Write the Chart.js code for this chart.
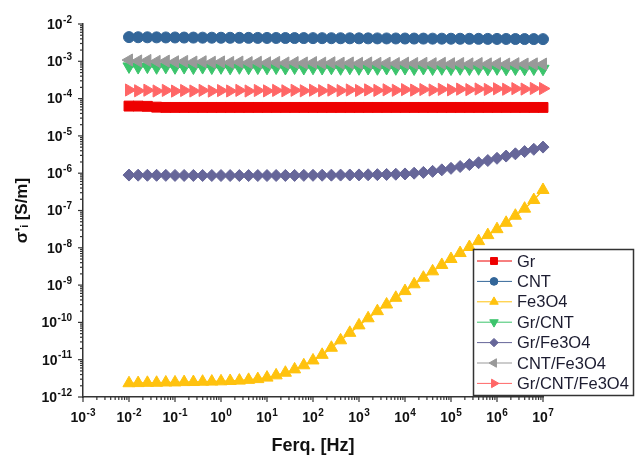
<!DOCTYPE html>
<html>
<head>
<meta charset="utf-8">
<script src="https://cdn.jsdelivr.net/npm/chart.js@4.4.1/dist/chart.umd.min.js"></script>
<style>
  html, body { margin: 0; padding: 0; background: #fff; }
  #wrap { width: 639px; height: 458px; position: relative; }
</style>
</head>
<body>
<div id="wrap"><canvas id="chart"></canvas></div>
<script>
// frequency points [Hz]
const freq = [
  0.01, 0.0158, 0.0251, 0.0398, 0.0631, 0.1, 0.158, 0.251, 0.398, 0.631,
  1, 1.58, 2.51, 3.98, 6.31, 10, 15.8, 25.1, 39.8, 63.1,
  100, 158, 251, 398, 631, 1e3, 1.58e3, 2.51e3, 3.98e3, 6.31e3,
  1e4, 1.58e4, 2.51e4, 3.98e4, 6.31e4, 1e5, 1.58e5, 2.51e5, 3.98e5, 6.31e5,
  1e6, 1.58e6, 2.51e6, 3.98e6, 6.31e6, 1e7
]

const gr = [
  6.3e-5, 6.3e-5, 6.2e-5, 5.9e-5, 5.8e-5, 5.8e-5, 5.8e-5, 5.8e-5, 5.8e-5, 5.8e-5,
  5.8e-5, 5.8e-5, 5.8e-5, 5.8e-5, 5.8e-5, 5.8e-5, 5.8e-5, 5.8e-5, 5.8e-5, 5.8e-5,
  5.8e-5, 5.8e-5, 5.8e-5, 5.8e-5, 5.8e-5, 5.8e-5, 5.8e-5, 5.8e-5, 5.8e-5, 5.8e-5,
  5.8e-5, 5.8e-5, 5.8e-5, 5.8e-5, 5.8e-5, 5.8e-5, 5.8e-5, 5.8e-5, 5.8e-5, 5.8e-5,
  5.8e-5, 5.8e-5, 5.8e-5, 5.8e-5, 5.8e-5, 5.8e-5
]

const cnt = [
  4.45e-3, 4.42e-3, 4.40e-3, 4.38e-3, 4.36e-3, 4.35e-3, 4.33e-3, 4.32e-3, 4.30e-3, 4.29e-3,
  4.28e-3, 4.27e-3, 4.26e-3, 4.25e-3, 4.24e-3, 4.23e-3, 4.22e-3, 4.21e-3, 4.20e-3, 4.19e-3,
  4.18e-3, 4.17e-3, 4.16e-3, 4.15e-3, 4.14e-3, 4.13e-3, 4.12e-3, 4.11e-3, 4.10e-3, 4.09e-3,
  4.08e-3, 4.07e-3, 4.06e-3, 4.05e-3, 4.04e-3, 4.03e-3, 4.02e-3, 4.01e-3, 4.00e-3, 3.99e-3,
  3.98e-3, 3.97e-3, 3.96e-3, 3.95e-3, 3.94e-3, 3.93e-3
]

const fe3o4 = [
  2.34e-12, 2.36e-12, 2.40e-12, 2.41e-12, 2.45e-12, 2.46e-12, 2.51e-12, 2.52e-12, 2.57e-12, 2.59e-12,
  2.63e-12, 2.69e-12, 2.75e-12, 2.88e-12, 3.02e-12, 3.31e-12, 3.80e-12, 4.47e-12, 5.50e-12, 7.08e-12,
  9.55e-12, 1.35e-11, 2.09e-11, 3.31e-11, 5.25e-11, 8.32e-11, 1.29e-10, 2.00e-10, 3.02e-10, 4.57e-10,
  6.92e-10, 1.05e-9, 1.58e-9, 2.34e-9, 3.47e-9, 5.01e-9, 7.24e-9, 1.05e-8, 1.51e-8, 2.19e-8,
  3.16e-8, 4.68e-8, 7.24e-8, 1.12e-7, 1.91e-7, 3.55e-7
]

const grCnt = [
  7.3e-4, 7.0e-4, 7.2e-4, 6.9e-4, 7.1e-4, 6.9e-4, 7.0e-4, 6.8e-4, 7.0e-4, 6.8e-4,
  6.9e-4, 6.7e-4, 6.9e-4, 6.7e-4, 6.8e-4, 6.7e-4, 6.8e-4, 6.6e-4, 6.8e-4, 6.6e-4,
  6.7e-4, 6.6e-4, 6.7e-4, 6.5e-4, 6.7e-4, 6.5e-4, 6.6e-4, 6.5e-4, 6.6e-4, 6.5e-4,
  6.6e-4, 6.4e-4, 6.6e-4, 6.4e-4, 6.5e-4, 6.4e-4, 6.5e-4, 6.4e-4, 6.5e-4, 6.3e-4,
  6.5e-4, 6.3e-4, 6.4e-4, 6.3e-4, 6.4e-4, 6.3e-4
]

const grFe3o4 = [
  8.91e-7, 8.85e-7, 8.80e-7, 8.78e-7, 8.75e-7, 8.72e-7, 8.70e-7, 8.70e-7, 8.68e-7, 8.68e-7,
  8.66e-7, 8.66e-7, 8.65e-7, 8.65e-7, 8.66e-7, 8.66e-7, 8.68e-7, 8.70e-7, 8.72e-7, 8.75e-7,
  8.78e-7, 8.82e-7, 8.86e-7, 8.90e-7, 8.95e-7, 9.00e-7, 9.07e-7, 9.15e-7, 9.25e-7, 9.38e-7,
  9.55e-7, 1.00e-6, 1.05e-6, 1.12e-6, 1.23e-6, 1.35e-6, 1.51e-6, 1.70e-6, 1.91e-6, 2.19e-6,
  2.51e-6, 2.88e-6, 3.31e-6, 3.80e-6, 4.37e-6, 5.01e-6
]

const cntFe3o4 = [
  1.08e-3, 1.02e-3, 1.05e-3, 0.99e-3, 1.01e-3, 0.97e-3, 0.99e-3, 0.95e-3, 0.97e-3, 0.94e-3,
  0.96e-3, 0.93e-3, 0.95e-3, 0.92e-3, 0.94e-3, 0.91e-3, 0.93e-3, 0.90e-3, 0.92e-3, 0.90e-3,
  0.92e-3, 0.89e-3, 0.91e-3, 0.89e-3, 0.90e-3, 0.88e-3, 0.90e-3, 0.88e-3, 0.89e-3, 0.87e-3,
  0.89e-3, 0.87e-3, 0.88e-3, 0.86e-3, 0.88e-3, 0.86e-3, 0.87e-3, 0.85e-3, 0.87e-3, 0.85e-3,
  0.86e-3, 0.84e-3, 0.86e-3, 0.84e-3, 0.85e-3, 0.84e-3
]

const grCntFe3o4 = [
  1.70e-4, 1.62e-4, 1.68e-4, 1.60e-4, 1.66e-4, 1.59e-4, 1.65e-4, 1.60e-4, 1.66e-4, 1.59e-4,
  1.64e-4, 1.60e-4, 1.66e-4, 1.60e-4, 1.65e-4, 1.61e-4, 1.66e-4, 1.62e-4, 1.67e-4, 1.62e-4,
  1.68e-4, 1.63e-4, 1.69e-4, 1.64e-4, 1.70e-4, 1.65e-4, 1.71e-4, 1.66e-4, 1.72e-4, 1.67e-4,
  1.74e-4, 1.69e-4, 1.75e-4, 1.70e-4, 1.77e-4, 1.72e-4, 1.79e-4, 1.74e-4, 1.81e-4, 1.76e-4,
  1.83e-4, 1.78e-4, 1.85e-4, 1.80e-4, 1.87e-4, 1.86e-4
]

// axis decade labels (exponents)
const xTickExp = ["-3", "-2", "-1", "0", "1", "2", "3", "4", "5", "6", "7"]
const yTickExp = ["-2", "-3", "-4", "-5", "-6", "-7", "-8", "-9", "-10", "-11", "-12"]

const xTitle = "Ferq. [Hz]"
const yTitle = "σ'ᵢ [S/m]"

const series = [
  { label: "Gr", values: gr, color: "#ee0000", style: "rect", rot: 0, r: 7 },
  { label: "CNT", values: cnt, color: "#336699", style: "circle", rot: 0, r: 5.5 },
  { label: "Fe3O4", values: fe3o4, color: "#ffc20e", style: "triangle", rot: 0, r: 7 },
  { label: "Gr/CNT", values: grCnt, color: "#3cc46c", style: "triangle", rot: 180, r: 7 },
  { label: "Gr/Fe3O4", values: grFe3o4, color: "#666699", style: "rectRot", rot: 0, r: 6 },
  { label: "CNT/Fe3O4", values: cntFe3o4, color: "#999999", style: "triangle", rot: -90, r: 7 },
  { label: "Gr/CNT/Fe3O4", values: grCntFe3o4, color: "#ff6666", style: "triangle", rot: 90, r: 7 }
]

const datasets = series.map((s, i) => ({
  label: s.label,
  data: freq.map((f, j) => ({ x: f, y: s.values[j] })),
  borderColor: s.color,
  backgroundColor: s.color,
  borderWidth: 1.5,
  pointStyle: s.style,
  rotation: s.rot,
  pointRadius: s.r,
  pointBorderWidth: 1,
  pointBorderColor: s.color,
  pointBackgroundColor: s.color,
  tension: 0,
  clip: false,
  order: series.length - i
}))

function drawPow(ctx, exp, x, y, align) {
  ctx.font = "bold 14px 'Liberation Sans', Arial, sans-serif"
  const w10 = ctx.measureText("10").width
  ctx.font = "bold 10px 'Liberation Sans', Arial, sans-serif"
  const wExp = ctx.measureText(exp).width
  const total = w10 + wExp + 0.5
  let start = x - total / 2
  if (align === "right") start = x - total
  ctx.textAlign = "left"
  ctx.textBaseline = "middle"
  ctx.font = "bold 14px 'Liberation Sans', Arial, sans-serif"
  ctx.fillText("10", start, y + 1)
  ctx.font = "bold 10px 'Liberation Sans', Arial, sans-serif"
  ctx.fillText(exp, start + w10 + 0.5, y - 4)
}

const axisDecor = {
  id: "axisDecor",
  afterDraw(chart) {
    const { ctx, chartArea: a } = chart
    const x = chart.scales.x
    const y = chart.scales.y
    ctx.save()
    ctx.strokeStyle = "#333"
    ctx.fillStyle = "#111"
    ctx.lineWidth = 1.2

    // x axis ticks and labels
    xTickExp.forEach((e, i) => {
      const base = Math.pow(10, Number(e))
      const px = x.getPixelForValue(base)
      ctx.beginPath()
      ctx.moveTo(px, a.bottom)
      ctx.lineTo(px, a.bottom + 5)
      ctx.stroke()
      if (i < xTickExp.length - 1) {
        for (let k = 2; k <= 9; k++) {
          const mx = x.getPixelForValue(k * base)
          ctx.beginPath()
          ctx.moveTo(mx, a.bottom)
          ctx.lineTo(mx, a.bottom + 3)
          ctx.stroke()
        }
      }
      drawPow(ctx, e, px, a.bottom + 20, "center")
    })

    // y axis ticks and labels
    yTickExp.forEach((e, i) => {
      const base = Math.pow(10, Number(e))
      const py = y.getPixelForValue(base)
      ctx.beginPath()
      ctx.moveTo(a.left, py)
      ctx.lineTo(a.left - 5, py)
      ctx.stroke()
      if (i > 0) {
        for (let k = 2; k <= 9; k++) {
          const my = y.getPixelForValue(k * base)
          ctx.beginPath()
          ctx.moveTo(a.left, my)
          ctx.lineTo(a.left - 3, my)
          ctx.stroke()
        }
      }
      drawPow(ctx, e, a.left - 11, py, "right")
    })

    // axis titles
    ctx.fillStyle = "#111"
    ctx.textAlign = "center"
    ctx.textBaseline = "middle"
    ctx.font = "bold 18px 'Liberation Sans', Arial, sans-serif"
    ctx.fillText(xTitle, (a.left + a.right) / 2 + 0, 446)

    ctx.save()
    ctx.translate(22, (a.top + a.bottom) / 2)
    ctx.rotate(-Math.PI / 2)
    ctx.font = "bold 17px 'Liberation Sans', Arial, sans-serif"
    ctx.fillText(yTitle, 0, 0)
    ctx.restore()

    ctx.restore()
  }
}

const boxLegend = {
  id: "boxLegend",
  afterDraw(chart) {
    const { ctx } = chart
    const left = 473.5, top = 249.5, w = 160, h = 146
    ctx.save()
    ctx.fillStyle = "#fff"
    ctx.fillRect(left, top, w, h)
    ctx.strokeStyle = "#333"
    ctx.lineWidth = 1.5
    ctx.strokeRect(left, top, w, h)

    chart.data.datasets.forEach((ds, i) => {
      const ry = 261 + i * 20.4
      ctx.strokeStyle = ds.borderColor
      ctx.lineWidth = 1
      ctx.beginPath()
      ctx.moveTo(477, ry)
      ctx.lineTo(512, ry)
      ctx.stroke()
      ctx.fillStyle = ds.backgroundColor
      Chart.helpers.drawPoint(ctx, {
        pointStyle: ds.pointStyle,
        rotation: ds.rotation,
        radius: ds.pointRadius * 0.7,
        borderWidth: 1
      }, 494, ry)
      ctx.fillStyle = "#1c1c30"
      ctx.font = "16.5px 'Liberation Sans', Arial, sans-serif"
      ctx.textAlign = "left"
      ctx.textBaseline = "middle"
      ctx.fillText(ds.label, 517, ry + 1)
    })
    ctx.restore()
  }
}

new Chart(document.getElementById("chart"), {
  type: "line",
  data: { datasets },
  options: {
    responsive: true,
    maintainAspectRatio: false,
    animation: false,
    layout: { padding: { left: 83, right: 96, top: 24, bottom: 61 } },
    plugins: { legend: { display: false }, tooltip: { enabled: false } },
    scales: {
      x: {
        type: "logarithmic",
        min: 1e-3,
        max: 1e7,
        grid: { display: false },
        ticks: { display: false },
        border: { display: true, color: "#333", width: 1.5 },
        afterFit(scale) { scale.height = 0 }
      },
      y: {
        type: "logarithmic",
        min: 1e-12,
        max: 1e-2,
        grid: { display: false },
        ticks: { display: false },
        border: { display: true, color: "#333", width: 1.5 },
        afterFit(scale) { scale.width = 0 }
      }
    }
  },
  plugins: [axisDecor, boxLegend]
})
</script>
</body>
</html>
